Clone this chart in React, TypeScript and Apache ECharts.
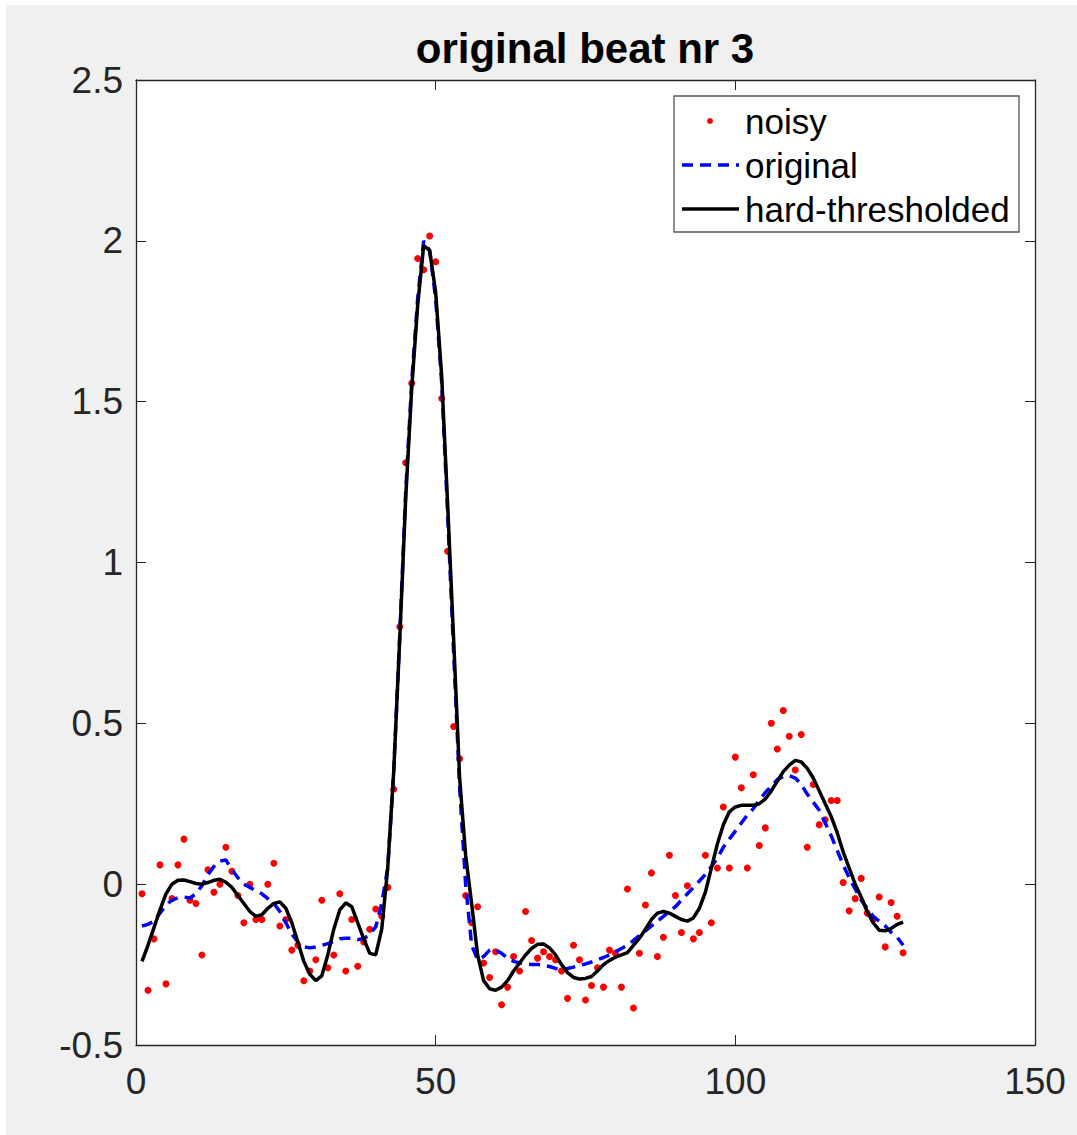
import React, { useEffect, useRef } from "react";
import * as echarts from "echarts";

const xValues: number[] = Array.from({ length: 128 }, (_, i) => i + 1);

const noisy: number[] = [
  -0.03, -0.33, -0.17, 0.06, -0.31, -0.045, 0.06, 0.14, -0.05, -0.06,
  -0.22, 0.045, -0.025, 0.0, 0.115, 0.04, -0.035, -0.12, 0.0, -0.11,
  -0.11, 0.0, 0.065, -0.13, -0.11, -0.205, -0.19, -0.3, -0.27, -0.235,
  -0.05, -0.26, -0.22, -0.03, -0.27, -0.11, -0.255, -0.18, -0.14, -0.077,
  -0.1, -0.01, 0.295, 0.8, 1.31, 1.557, 1.945, 1.91, 2.015, 1.935,
  1.51, 1.035, 0.49, 0.39, -0.035, -0.12, -0.07, -0.245, -0.29, -0.21,
  -0.375, -0.32, -0.225, -0.27, -0.085, -0.175, -0.23, -0.21, -0.225, -0.235,
  -0.27, -0.355, -0.19, -0.235, -0.36, -0.315, -0.26, -0.32, -0.205, -0.215,
  -0.32, -0.015, -0.385, -0.215, -0.065, 0.035, -0.225, -0.165, 0.09, -0.035,
  -0.15, -0.005, -0.17, -0.15, 0.09, -0.12, 0.05, 0.24, 0.05, 0.395,
  0.3, 0.05, 0.34, 0.12, 0.175, 0.5, 0.42, 0.54, 0.46, 0.355,
  0.465, 0.115, 0.31, 0.185, 0.2, 0.26, 0.26, 0.005, -0.083, -0.045,
  0.018, -0.09, -0.11, -0.04, -0.195, -0.057, -0.1, -0.213,
];

const original: number[] = [
  -0.13, -0.125, -0.115, -0.09, -0.065, -0.05, -0.042, -0.04, -0.043, -0.03,
  -0.005, 0.03, 0.055, 0.072, 0.075, 0.045, 0.02, 0.0, -0.01, -0.02,
  -0.03, -0.045, -0.06, -0.085, -0.12, -0.155, -0.18, -0.195, -0.198, -0.195,
  -0.19, -0.185, -0.178, -0.17, -0.168, -0.168, -0.172, -0.17, -0.155, -0.133,
  -0.06, 0.05, 0.35, 0.77, 1.22, 1.56, 1.82, 2.0, 1.97, 1.82,
  1.56, 1.15, 0.72, 0.3, 0.0, -0.19, -0.235, -0.225, -0.205, -0.205,
  -0.215, -0.23, -0.24, -0.245, -0.248, -0.25, -0.25, -0.252, -0.256, -0.262,
  -0.265, -0.262, -0.258, -0.252, -0.248, -0.242, -0.235, -0.228, -0.22, -0.21,
  -0.2, -0.19, -0.175, -0.16, -0.145, -0.13, -0.115, -0.1, -0.085, -0.07,
  -0.05, -0.03, -0.01, 0.01, 0.03, 0.055, 0.08, 0.115, 0.14, 0.165,
  0.19, 0.215, 0.235, 0.26, 0.285, 0.305, 0.325, 0.335, 0.337, 0.33,
  0.31, 0.28, 0.255, 0.23, 0.19, 0.15, 0.105, 0.06, 0.02, -0.015,
  -0.05, -0.075, -0.1, -0.115, -0.13, -0.15, -0.165, -0.19,
];

const hardThresholded: number[] = [
  -0.24, -0.19, -0.135, -0.08, -0.03, 0.0, 0.012, 0.013, 0.008, 0.002,
  0.0, 0.005, 0.012, 0.015, 0.006, -0.01, -0.035, -0.06, -0.085, -0.1,
  -0.095, -0.075, -0.06, -0.055, -0.075, -0.12, -0.18, -0.24, -0.28, -0.3,
  -0.285, -0.22, -0.14, -0.08, -0.058, -0.07, -0.12, -0.17, -0.215, -0.22,
  -0.14, 0.05, 0.35, 0.76, 1.2, 1.54, 1.8, 1.985, 1.97, 1.84,
  1.58, 1.18, 0.76, 0.33, 0.09, -0.06, -0.22, -0.3, -0.325, -0.33,
  -0.32, -0.3, -0.27, -0.245, -0.22, -0.2, -0.187, -0.186, -0.198, -0.22,
  -0.25, -0.275, -0.29, -0.295, -0.293, -0.287, -0.27, -0.25, -0.237, -0.227,
  -0.22, -0.213, -0.19, -0.168, -0.14, -0.11, -0.09, -0.085, -0.09, -0.1,
  -0.11, -0.115, -0.105, -0.075, -0.025, 0.05, 0.125, 0.185, 0.225, 0.24,
  0.245, 0.245, 0.245, 0.25, 0.265, 0.29, 0.32, 0.35, 0.37, 0.385,
  0.38, 0.36, 0.33, 0.29, 0.25, 0.21, 0.16, 0.1, 0.05, 0.0,
  -0.04, -0.085, -0.12, -0.143, -0.145, -0.138, -0.125, -0.118,
];

const titleText = "original beat nr 3";
const legendNames = ["noisy", "original", "hard-thresholded"];

const FONT = "'Liberation Sans', Arial, Helvetica, sans-serif";
const AXIS_COLOR = "#262626";

const pairs = (ys: number[]) => ys.map((y, i) => [xValues[i], y]);

export default function App() {
  const ref = useRef<HTMLDivElement>(null);

  useEffect(() => {
    if (!ref.current) return;
    const chart = echarts.init(ref.current, undefined, { renderer: "svg" });

    const tickCommon = {
      show: true,
      inside: true,
      length: 10,
      lineStyle: { color: AXIS_COLOR, width: 1 },
    };
    const lineCommon = {
      show: true,
      onZero: false,
      lineStyle: { color: AXIS_COLOR, width: 1.3 },
    };
    const labelCommon = {
      color: AXIS_COLOR,
      fontSize: 37,
      fontFamily: FONT,
    };

    const lx = 668;
    const ly = 91;

    chart.setOption({
      animation: false,
      backgroundColor: "#f0f0f0",
      grid: {
        left: 130,
        top: 75,
        right: 42,
        bottom: 90,
        show: true,
        backgroundColor: "#ffffff",
        borderWidth: 0,
        containLabel: false,
      },
      xAxis: [
        {
          type: "value",
          min: 0,
          max: 150,
          interval: 50,
          position: "bottom",
          axisLine: lineCommon,
          axisTick: tickCommon,
          axisLabel: { ...labelCommon, margin: 18 },
          splitLine: { show: false },
        },
        {
          type: "value",
          min: 0,
          max: 150,
          interval: 50,
          position: "top",
          axisLine: lineCommon,
          axisTick: tickCommon,
          axisLabel: { show: false },
          splitLine: { show: false },
        },
      ],
      yAxis: [
        {
          type: "value",
          min: -0.5,
          max: 2.5,
          interval: 0.5,
          position: "left",
          axisLine: lineCommon,
          axisTick: tickCommon,
          axisLabel: { ...labelCommon, margin: 13 },
          splitLine: { show: false },
        },
        {
          type: "value",
          min: -0.5,
          max: 2.5,
          interval: 0.5,
          position: "right",
          axisLine: lineCommon,
          axisTick: tickCommon,
          axisLabel: { show: false },
          splitLine: { show: false },
        },
      ],
      series: [
        {
          name: legendNames[0],
          type: "scatter",
          data: pairs(noisy),
          symbol: "circle",
          symbolSize: 7,
          itemStyle: { color: "#ff0000", opacity: 1 },
          z: 2,
        },
        {
          name: legendNames[1],
          type: "line",
          data: pairs(original),
          showSymbol: false,
          symbol: "none",
          lineStyle: { color: "#0000ff", width: 3.5, type: [11, 7] },
          z: 3,
        },
        {
          name: legendNames[2],
          type: "line",
          data: pairs(hardThresholded),
          showSymbol: false,
          symbol: "none",
          lineStyle: { color: "#000000", width: 3.5 },
          z: 4,
        },
      ],
      graphic: [
        {
          type: "text",
          x: 579,
          y: 43,
          style: {
            text: titleText,
            fill: "#000000",
            font: `bold 42px ${FONT}`,
            textAlign: "center",
            textVerticalAlign: "middle",
          },
        },
        {
          type: "group",
          z: 100,
          children: [
            {
              type: "rect",
              shape: { x: lx, y: ly, width: 345, height: 136 },
              style: { fill: "#ffffff", stroke: "#555555", lineWidth: 1.3 },
            },
            {
              type: "circle",
              shape: { cx: lx + 36, cy: ly + 25, r: 3 },
              style: { fill: "#ff0000" },
            },
            {
              type: "line",
              shape: { x1: lx + 8, y1: ly + 69, x2: lx + 65, y2: ly + 69 },
              style: { stroke: "#0000ff", lineWidth: 3.5, lineDash: [11, 7] },
            },
            {
              type: "line",
              shape: { x1: lx + 8, y1: ly + 113, x2: lx + 65, y2: ly + 113 },
              style: { stroke: "#000000", lineWidth: 3.5 },
            },
            {
              type: "text",
              x: lx + 71,
              y: ly + 25,
              style: {
                text: legendNames[0],
                fill: "#000000",
                font: `35px ${FONT}`,
                textVerticalAlign: "middle",
              },
            },
            {
              type: "text",
              x: lx + 71,
              y: ly + 69,
              style: {
                text: legendNames[1],
                fill: "#000000",
                font: `35px ${FONT}`,
                textVerticalAlign: "middle",
              },
            },
            {
              type: "text",
              x: lx + 71,
              y: ly + 113,
              style: {
                text: legendNames[2],
                fill: "#000000",
                font: `35px ${FONT}`,
                textVerticalAlign: "middle",
              },
            },
          ],
        },
      ],
    });

    return () => {
      chart.dispose();
    };
  }, []);

  return (
    <div
      style={{
        position: "absolute",
        left: 0,
        top: 0,
        width: 1077,
        height: 1135,
        background: "#ffffff",
      }}
    >
      <div
        ref={ref}
        style={{
          position: "absolute",
          left: 6,
          top: 5,
          width: 1071,
          height: 1130,
        }}
      />
    </div>
  );
}
